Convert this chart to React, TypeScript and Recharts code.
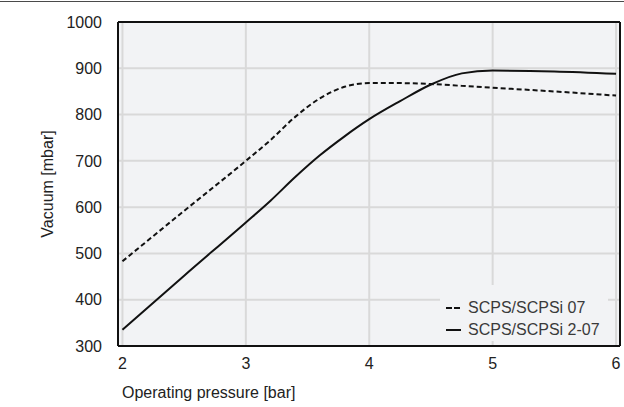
import { CartesianGrid, Legend, Line, LineChart, XAxis, YAxis } from "recharts";

const pressure = [2, 2.5, 3, 3.2, 3.4, 3.6, 3.8, 4, 4.25, 4.5, 4.75, 5, 5.5, 6];
const scps07 = [483, 592, 700, 745, 795, 835, 860, 868, 868, 866, 862, 858, 850, 841];
const scps207 = [335, 452, 567, 614, 665, 712, 753, 790, 829, 865, 889, 895, 893, 888];

const xTicks = [2, 3, 4, 5, 6];
const yTicks = [300, 400, 500, 600, 700, 800, 900, 1000];
const xDomain = [1.964, 6.032];

const data = pressure.map((p, i) => ({ p, a: scps07[i], b: scps207[i] }));

const font = "'Liberation Sans', Arial, sans-serif";
const plotBg = "#f2f3f5";
const border = { stroke: "#111", strokeWidth: 2 };

function LegendBox(props: any) {
  const items = props.payload ?? [];
  return (
    <div style={{ background: plotBg, width: 168, height: 56, paddingTop: 12, boxSizing: "border-box" }}>
      {items.map((it: any) => (
        <div key={it.value} style={{ display: "flex", alignItems: "center", height: 22 }}>
          <svg width={23} height={10} style={{ marginLeft: 5 }}>
            <line
              x1={1}
              x2={16}
              y1={5}
              y2={5}
              stroke="#111"
              strokeWidth={2}
              strokeDasharray={it.payload?.strokeDasharray ? "6 2" : undefined}
            />
          </svg>
          <span style={{ fontFamily: font, fontSize: 16, color: "#3a3a3a" }}>{it.value}</span>
        </div>
      ))}
    </div>
  );
}

export default function App() {
  return (
    <div style={{ position: "relative", width: 624, height: 407 }}>
      <style>{"body{margin:0;overflow:hidden}"}</style>
      <div style={{ position: "absolute", left: 0, top: 1, width: 624, height: 1, background: "#4a4a4a" }} />
      <LineChart width={624} height={407} data={data} margin={{ top: 21, right: 3, bottom: 5, left: 0 }}>
        <CartesianGrid fill={plotBg} stroke="#d9d9d9" strokeWidth={2} verticalValues={xTicks} horizontalValues={yTicks} />
        <XAxis
          dataKey="p"
          type="number"
          domain={xDomain}
          ticks={xTicks}
          allowDataOverflow
          axisLine={border}
          tickLine={false}
          tickSize={0}
          tickMargin={12}
          height={56}
          tick={{ fill: "#222", fontSize: 16, fontFamily: font }}
          label={{
            value: "Operating pressure [bar]",
            position: "insideBottomLeft",
            offset: 4,
            style: { fill: "#222", fontSize: 16, fontFamily: font }
          }}
        />
        <XAxis
          xAxisId="top"
          orientation="top"
          dataKey="p"
          type="number"
          domain={xDomain}
          allowDataOverflow
          height={1}
          tick={false}
          tickLine={false}
          axisLine={border}
        />
        <YAxis
          type="number"
          domain={[300, 1000]}
          ticks={yTicks}
          width={118}
          axisLine={border}
          tickLine={false}
          tickSize={0}
          tickMargin={16}
          tick={{ fill: "#222", fontSize: 16, fontFamily: font }}
          label={{
            value: "Vacuum [mbar]",
            angle: -90,
            position: "insideLeft",
            offset: 47,
            style: { fill: "#222", fontSize: 16, fontFamily: font, textAnchor: "middle" }
          }}
        />
        <YAxis
          yAxisId="right"
          orientation="right"
          type="number"
          domain={[300, 1000]}
          width={1}
          tick={false}
          tickLine={false}
          axisLine={border}
        />
        <Legend
          layout="horizontal"
          verticalAlign="middle"
          content={<LegendBox />}
          wrapperStyle={{ left: 440, top: 285, width: 168, height: 56 }}
        />
        <Line
          type="monotone"
          dataKey="a"
          name="SCPS/SCPSi 07"
          stroke="#111"
          strokeWidth={2}
          strokeDasharray="5 3"
          dot={false}
          isAnimationActive={false}
        />
        <Line
          type="monotone"
          dataKey="b"
          name="SCPS/SCPSi 2-07"
          stroke="#111"
          strokeWidth={2}
          dot={false}
          isAnimationActive={false}
        />
      </LineChart>
    </div>
  );
}
